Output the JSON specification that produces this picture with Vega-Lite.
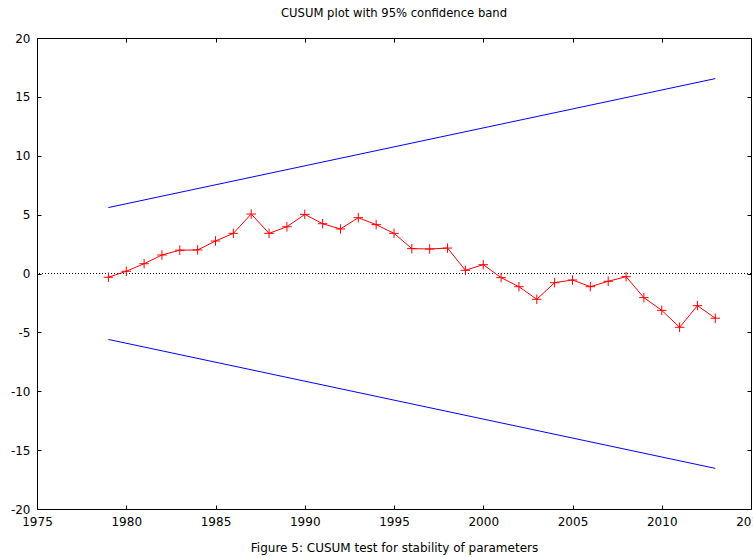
{
  "$schema": "https://vega.github.io/schema/vega-lite/v6.json",
  "width": 714,
  "height": 471,
  "autosize": "none",
  "padding": {"left": 37, "top": 38, "right": 2, "bottom": 49},
  "background": "white",
  "config": {
    "font": "DejaVu Sans",
    "locale": {"number": {"decimal": ".", "thousands": ",", "grouping": [3], "currency": ["$", ""], "minus": "-"}},
    "view": {"stroke": "black", "strokeWidth": 1},
    "axis": {
      "domain": false,
      "grid": false,
      "ticks": true,
      "tickColor": "black",
      "tickSize": -4,
      "tickWidth": 1,
      "labelColor": "black",
      "labelFontSize": 12,
      "labelFont": "DejaVu Sans",
      "labelFlush": false,
      "labelOverlap": false,
      "titleFont": "DejaVu Sans",
      "titleColor": "black",
      "titleFontWeight": "normal",
      "titleFontSize": 12
    }
  },
  "title": {
    "text": "CUSUM plot with 95% confidence band",
    "fontSize": 11.6,
    "fontWeight": "normal",
    "color": "black",
    "font": "DejaVu Sans",
    "offset": 12
  },
  "datasets": {
    "cusum": [
      {"year": 1979, "value": -0.32},
      {"year": 1980, "value": 0.19},
      {"year": 1981, "value": 0.83},
      {"year": 1982, "value": 1.57},
      {"year": 1983, "value": 1.98},
      {"year": 1984, "value": 2.0},
      {"year": 1985, "value": 2.76},
      {"year": 1986, "value": 3.41},
      {"year": 1987, "value": 5.05},
      {"year": 1988, "value": 3.41},
      {"year": 1989, "value": 3.97},
      {"year": 1990, "value": 5.02},
      {"year": 1991, "value": 4.23},
      {"year": 1992, "value": 3.78},
      {"year": 1993, "value": 4.74},
      {"year": 1994, "value": 4.15},
      {"year": 1995, "value": 3.41},
      {"year": 1996, "value": 2.11},
      {"year": 1997, "value": 2.08},
      {"year": 1998, "value": 2.16},
      {"year": 1999, "value": 0.27},
      {"year": 2000, "value": 0.75},
      {"year": 2001, "value": -0.35},
      {"year": 2002, "value": -1.12},
      {"year": 2003, "value": -2.19},
      {"year": 2004, "value": -0.78},
      {"year": 2005, "value": -0.55},
      {"year": 2006, "value": -1.12},
      {"year": 2007, "value": -0.66},
      {"year": 2008, "value": -0.27},
      {"year": 2009, "value": -2.05},
      {"year": 2010, "value": -3.13},
      {"year": 2011, "value": -4.57},
      {"year": 2012, "value": -2.73},
      {"year": 2013, "value": -3.8}
    ],
    "bands": [
      {"year": 1979, "value": 5.6, "bound": "upper"},
      {"year": 2013, "value": 16.55, "bound": "upper"},
      {"year": 1979, "value": -5.6, "bound": "lower"},
      {"year": 2013, "value": -16.55, "bound": "lower"}
    ]
  },
  "layer": [
    {
      "data": {"values": [{"zero": 0}]},
      "mark": {"type": "rule", "color": "black", "strokeWidth": 1, "strokeDash": [1, 2]},
      "encoding": {
        "y": {"field": "zero", "type": "quantitative", "scale": {"domain": [-20, 20]}, "axis": null}
      }
    },
    {
      "data": {"name": "bands"},
      "mark": {"type": "line", "color": "#0000ff", "strokeWidth": 1},
      "encoding": {
        "x": {"field": "year", "type": "quantitative", "scale": {"domain": [1975, 2015], "nice": false, "zero": false},
          "axis": {"orient": "bottom", "values": [1975, 1980, 1985, 1990, 1995, 2000, 2005, 2010, 2015], "format": "d", "labelPadding": 11, "title": "Figure 5: CUSUM test for stability of parameters", "titlePadding": 15}},
        "y": {"field": "value", "type": "quantitative", "scale": {"domain": [-20, 20], "nice": false},
          "axis": {"orient": "left", "values": [-20, -15, -10, -5, 0, 5, 10, 15, 20], "format": "d", "labelPadding": 11, "title": null}},
        "detail": {"field": "bound"}
      }
    },
    {
      "data": {"name": "cusum"},
      "mark": {"type": "line", "color": "#ff0000", "strokeWidth": 1},
      "encoding": {
        "x": {"field": "year", "type": "quantitative", "axis": {"orient": "top", "values": [1975, 1980, 1985, 1990, 1995, 2000, 2005, 2010, 2015], "labels": false, "title": null}},
        "y": {"field": "value", "type": "quantitative", "axis": {"orient": "right", "values": [-20, -15, -10, -5, 0, 5, 10, 15, 20], "labels": false, "title": null}}
      }
    },
    {
      "data": {"name": "cusum"},
      "mark": {"type": "point", "shape": "M-1,0L1,0M0,-1L0,1", "filled": false, "stroke": "#ff0000", "strokeWidth": 1, "size": 90, "opacity": 1},
      "encoding": {
        "x": {"field": "year", "type": "quantitative", "axis": null},
        "y": {"field": "value", "type": "quantitative", "axis": null}
      }
    }
  ],
  "resolve": {"axis": {"x": "independent", "y": "independent"}}
}
